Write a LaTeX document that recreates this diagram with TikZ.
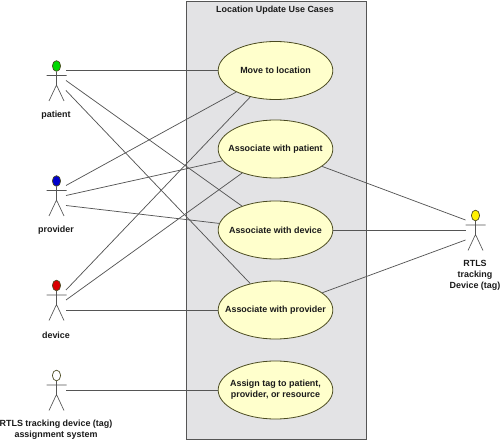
\documentclass[tikz,border=0pt]{standalone}
\usepackage{fontspec}
\setmainfont{Liberation Sans}
\usetikzlibrary{shapes.geometric}
\definecolor{boxfill}{HTML}{E3E3E5}
\definecolor{boxline}{HTML}{555555}
\definecolor{ucfill}{HTML}{FFFFCC}
\definecolor{ucline}{HTML}{4A4A20}
\definecolor{linkc}{HTML}{555555}
\definecolor{txt}{HTML}{1A1A1A}
\tikzset{
  usecase/.style={ellipse,draw=ucline,fill=ucfill,line width=.6pt,minimum width=86pt,minimum height=43.5pt,inner sep=0pt},
  label text/.style={align=center,font=\fontsize{6.7}{8.1}\selectfont\bfseries,text=txt,inner sep=0pt},
  head/.style={ellipse,draw=ucline,line width=.5pt,minimum width=6.2pt,minimum height=8pt,inner sep=0pt},
  limb/.style={draw=linkc,line width=.5pt},
  link/.style={draw=linkc,line width=.55pt},
  system/.style={draw=boxline,fill=boxfill,line width=.9pt}
}
\newcommand{\actorfig}[4]{%
  \node[head,fill=#4] (#1) at (#2,#3) {};
  \coordinate (#1hip) at (#2,#3+19);
  \coordinate (#1armL) at (#2-10,#3+9.5);
  \coordinate (#1armR) at (#2+10,#3+9.5);
  \coordinate (#1footL) at (#2-7.5,#3+35);
  \coordinate (#1footR) at (#2+7.5,#3+35);
  \draw[limb] (#1.south) -- (#1hip) -- (#1footL) (#1hip) -- (#1footR) (#1armL) -- (#1armR);
  \coordinate (#1a) at (#2+9.5,#3+4.5);
  \coordinate (#1b) at (#2+9.5,#3+14.5);
  \coordinate (#1c) at (#2+9.5,#3+24.5);
  \coordinate (#1la) at (#2-10,#3+4.5);
  \coordinate (#1lb) at (#2-10,#3+14.5);
  \coordinate (#1lc) at (#2-10,#3+24.5);
}
\begin{document}
\begin{tikzpicture}[x=0.75pt,y=-0.75pt]
\useasboundingbox (0,0) rectangle (500,441);
\node[system,minimum width=135pt,minimum height=328.5pt,inner sep=0pt,anchor=north west] (sysbox) at (186,1) {};
\node[label text] (title) at (275,10) {Location Update Use Cases};

\actorfig{pat}{56.5}{66}{green!85!black}
\actorfig{pro}{56.5}{181}{blue!80!black}
\actorfig{dev}{56.5}{285.5}{red!85!black}
\actorfig{ras}{56.5}{375.5}{white}
\actorfig{tag}{475.5}{215.5}{yellow}

\node[usecase] (uMove) at (275.5,70.5) {};
\node[usecase] (uPat) at (275.5,149) {};
\node[usecase] (uDev) at (275.5,230) {};
\node[usecase] (uPro) at (275.5,310) {};
\node[usecase] (uTag) at (275.5,390) {};

\draw[link] (pata) -- (uMove);
\draw[link] (patb) -- (uDev);
\draw[link] (patc) -- (uPro);
\draw[link] (proa) -- (uMove);
\draw[link] (prob) -- (uPat);
\draw[link] (proc) -- (uDev);
\draw[link] (deva) -- (uMove);
\draw[link] (devb) -- (uPat);
\draw[link] (devc) -- (uPro);
\draw[link] (rasb) -- (uTag);
\draw[link] (uPat) -- (tagla);
\draw[link] (uDev) -- (taglb);
\draw[link] (uPro) -- (taglc);

\node[label text] (tMove) at (uMove) {Move to location};
\node[label text] (tPat) at (uPat) {Associate with patient};
\node[label text] (tDev) at (uDev) {Associate with device};
\node[label text] (tPro) at (uPro) {Associate with provider};
\node[label text] (tTag) at (uTag) {Assign tag to patient,\\provider, or resource};

\node[label text] (lpat) at (56,115) {patient};
\node[label text] (lpro) at (56,230) {provider};
\node[label text] (ldev) at (56,335) {device};
\node[label text] (lsys) at (56,429.5) {RTLS tracking device (tag)\\assignment system};
\node[label text] (ltag) at (475,275.5) {RTLS\\tracking\\Device (tag)};
\end{tikzpicture}
\end{document}
